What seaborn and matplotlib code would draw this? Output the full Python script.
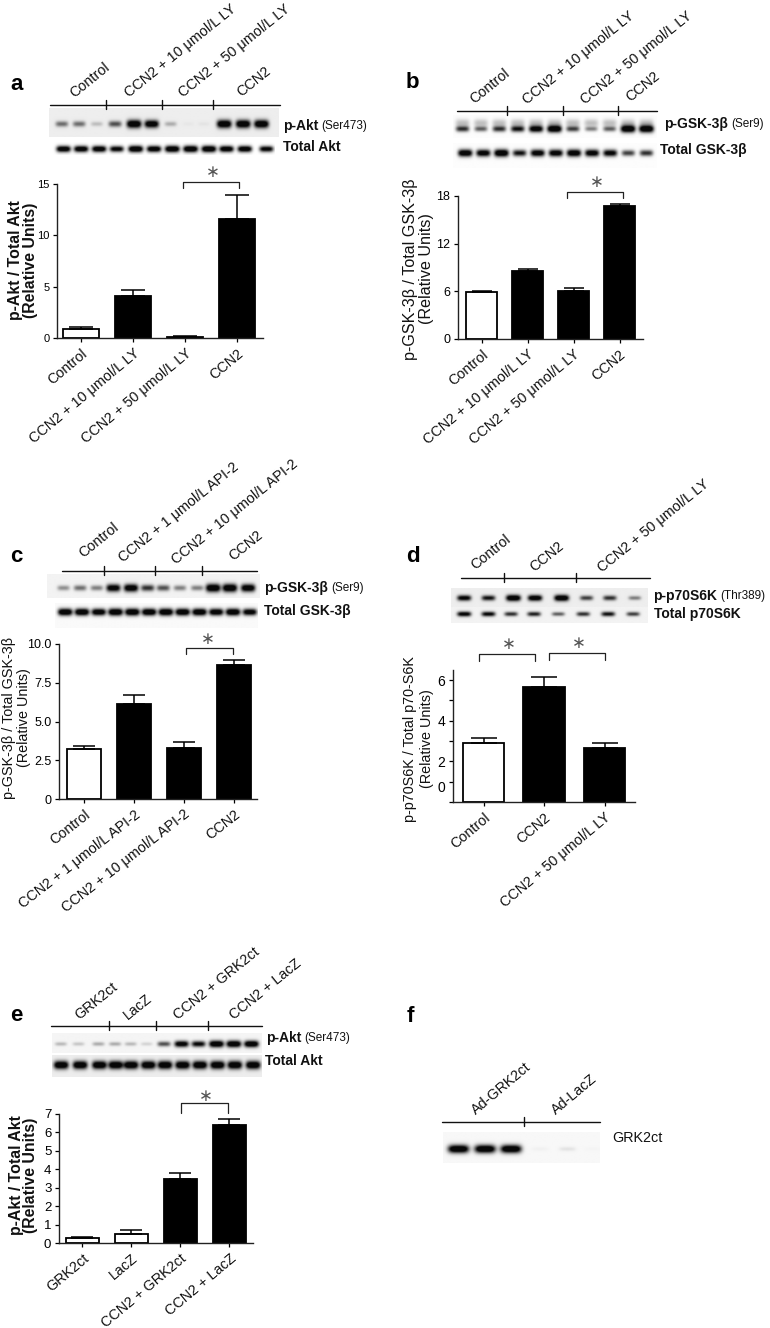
import numpy as np
import pandas as pd
import matplotlib
matplotlib.use("Agg")
import matplotlib.pyplot as plt
import seaborn as sns

W, H = 770, 1328
sns.set_theme(style="ticks")
plt.rcParams['font.family'] = ['Liberation Sans', 'DejaVu Sans']
plt.rcParams['axes.edgecolor'] = 'black'
plt.rcParams['text.color'] = 'black'
plt.rcParams['xtick.color'] = 'black'
plt.rcParams['ytick.color'] = 'black'

# ---------- data ----------
labels_a = ["Control", "CCN2 + 10 μmol/L LY", "CCN2 + 50 μmol/L LY", "CCN2"]
means_a = [0.85, 4.05, 0.12, 11.6]
tops_a = [1.1, 4.7, 0.2, 13.95]
labels_b = labels_a
means_b = [5.9, 8.5, 6.05, 16.8]
tops_b = [6.1, 8.75, 6.4, 17.0]
labels_c = ["Control", "CCN2 + 1 μmol/L API-2", "CCN2 + 10 μmol/L API-2", "CCN2"]
means_c = [3.25, 6.1, 3.3, 8.65]
tops_c = [3.4, 6.7, 3.7, 8.95]
labels_d = ["Control", "CCN2", "CCN2 + 50 μmol/L LY"]
means_d = [2.9, 5.65, 2.65]
tops_d = [3.15, 6.15, 2.9]
labels_e = ["GRK2ct", "LacZ", "CCN2 + GRK2ct", "CCN2 + LacZ"]
means_e = [0.25, 0.5, 3.5, 6.4]
tops_e = [0.3, 0.7, 3.8, 6.75]

blot_a_p = [.4, .4, .15, .5, 1, .9, .2, .02, .03, 1, 1, 1]
blot_a_t = [.9, .9, .9, .8, 1, .9, 1, 1, 1, .9, .9, .8]
blot_b_p = [.6, .45, .6, .7, .85, .95, .55, .35, .45, 1, 1]
blot_b_t = [.9, .85, .95, .7, .85, .85, .9, .85, .8, .55, .6]
blot_c_p = [.3, .4, .35, .85, .9, .6, .5, .35, .35, 1, 1, .9]
blot_c_t = [.95, .95, .9, 1, 1, .95, 1, .95, .95, .9, .95, .85]
blot_d_p = [.8, .7, 1, .9, 1, .55, .6, .35]
blot_d_t = [.8, .75, .6, .65, .45, .6, .7, .55]
blot_e_p = [.18, .14, .22, .22, .18, .1, .5, .85, .75, 1, 1, .95]
blot_e_t = [1, 1, 1, 1, 1, 1, 1, 1, 1, 1, 1, 1]
blot_f = [1, 1, 1, .02, .06, .01]

header_a = ["Control", "CCN2 + 10 μmol/L LY", "CCN2 + 50 μmol/L LY", "CCN2"]
header_b = header_a
header_c = ["Control", "CCN2 + 1 μmol/L API-2", "CCN2 + 10 μmol/L API-2", "CCN2"]
header_d = ["Control", "CCN2", "CCN2 + 50 μmol/L LY"]
header_e = ["GRK2ct", "LacZ", "CCN2 + GRK2ct", "CCN2 + LacZ"]
header_f = ["Ad-GRK2ct", "Ad-LacZ"]

fig = plt.figure(figsize=(W / 100, H / 100), dpi=100, facecolor='white')
ov = fig.add_axes([0, 0, 1, 1], zorder=0)
ov.set_axis_off()
rend = fig.canvas.get_renderer()


def blot(lanes, vals, x0, x1, y0, y1, yc, bg=0.97, wx=7.0, wy=3.6, haze=0.0):
    xs = np.arange(x0, x1 + .5, .5)
    ys = np.arange(y0, y1 + .5, .5)
    X, Y = np.meshgrid(xs, ys)
    d = np.zeros_like(X)
    haz = np.zeros_like(X)
    for lx, v in zip(lanes, vals):
        wy_i = wy * (0.55 + 0.6 * v)
        wx_i = wx * (0.8 + 0.25 * v)
        d += min(1.0, v * 1.05) * 1.35 * np.exp(-((X - lx) / wx_i) ** 4 - ((Y - yc) / wy_i) ** 2)
        if haze:
            haz += haze * np.exp(-((X - lx) / wx) ** 4 - ((Y - yc + 6) / 4.0) ** 2)
    d = np.clip(d + haz, 0, 1)
    img = bg * (1 - d) + 0.03 * d
    ov.imshow(img, extent=(x0, x1, y1, y0), cmap='gray', vmin=0, vmax=1,
              aspect='auto', interpolation='bilinear', zorder=1)


def header(xa, xb, y, ticks, names, starts, rot=39, fs=10.4):
    ov.plot([xa, xb], [y, y], color='#111111', lw=1.0, zorder=3)
    for t in ticks:
        ov.plot([t, t], [y - 5, y + 4], color='#111111', lw=1.0, zorder=3)
    for n, (sx, sy) in zip(names, starts):
        ov.text(sx, sy, n, rotation=rot, rotation_mode='anchor', ha='left', va='bottom',
                fontsize=fs, color='#111111', zorder=4)


def rlabel(x, y, main, sub=None, fs=10, subfs=8.5, weight='bold'):
    t = ov.text(x, y, main, fontsize=fs, fontweight=weight, ha='left', va='center', color='#111111', zorder=4)
    if sub:
        w = t.get_window_extent(rend).width
        ov.text(x + w + 3, y + .5, sub, fontsize=subfs, ha='left', va='center', color='#111111', zorder=4)


def bracket(xa, xb, ytop, ybot, star):
    ov.plot([xa, xa, xb, xb], [ybot, ytop, ytop, ybot], color='#222222', lw=0.9, zorder=3)
    ov.text(star[0], star[1], "∗", fontsize=12, family='DejaVu Sans', color='#555555',
            ha='center', va='center', zorder=4)


def panel_letter(x, y, s):
    ov.text(x, y, s, fontsize=16, fontweight='bold', ha='left', va='baseline', color='black', zorder=4)


def bars(labels, means, tops, box, c0, step, width, ylim, yticks, yticklabels, fills, ticksize, xsize, rot=40):
    x0, ytop, x1, ybot = box
    ax = fig.add_axes([x0 / W, 1 - ybot / H, (x1 - x0) / W, (ybot - ytop) / H], zorder=2)
    ax.patch.set_alpha(0)
    df = pd.DataFrame({"group": labels, "value": means})
    sns.barplot(data=df, x="group", y="value", hue="group", palette=dict(zip(labels, fills)),
                legend=False, width=width, edgecolor='black', linewidth=1.3, saturation=1,
                errorbar=None, ax=ax)
    ax.errorbar(range(len(labels)), means, yerr=[[0] * len(means), np.array(tops) - np.array(means)],
                fmt='none', ecolor='black', elinewidth=1.1, capsize=step * 0.16, capthick=1.1, zorder=1)
    ax.set_xlim((x0 - c0) / step, (x1 - c0) / step)
    ax.set_ylim(*ylim)
    ax.set_yticks(yticks)
    ax.set_yticklabels(yticklabels, fontsize=ticksize)
    ax.set_xticks(range(len(labels)))
    ax.set_xticklabels(labels, rotation=rot, ha='right', rotation_mode='anchor', fontsize=xsize, color='#111111')
    ax.set_xlabel("")
    ax.set_ylabel("")
    ax.tick_params(axis='both', length=3, width=0.9, pad=2.5)
    ax.tick_params(axis='x', pad=3)
    sns.despine(ax=ax)
    for s in ax.spines.values():
        s.set_linewidth(1.0)
        s.set_color('#222222')
    return ax


def ylab(x1, x2, yc, l1, l2, fs=10.5, weight='normal'):
    ov.text(x1, yc, l1, rotation=90, ha='center', va='center', fontsize=fs, fontweight=weight, color='#111111', zorder=4)
    ov.text(x2, yc, l2, rotation=90, ha='center', va='center', fontsize=fs, fontweight=weight, color='#111111', zorder=4)


W_ = 'white'
K_ = 'black'

# ---------- panel a ----------
panel_letter(10, 90, "a")
header(50, 280, 105, [106, 162, 213], header_a, [(76, 100), (131, 100), (185, 100), (243, 99)])
blot(np.array([185, 237, 290, 345, 402, 455, 512, 565, 612, 673, 730, 785]) / 3, blot_a_p, 49, 279, 108, 137, 124, bg=.93)
blot(np.array([190, 243, 297, 350, 407, 462, 517, 572, 627, 680, 735, 800]) / 3, blot_a_t, 52, 275, 142, 155, 149, bg=1, wy=3.0)
rlabel(283, 126, "p-Akt", "(Ser473)")
rlabel(283, 147, "Total Akt")
bracket(183, 239, 182, 188, (213, 172))
bars(labels_a, means_a, tops_a, (57, 184, 263, 338), 81, 52, .68, (0, 15), [0, 5, 10, 15], ["0", "5", "10", "15"],
     [W_, K_, K_, K_], 8, 10.4)
ylab(16, 31, 260, "p-Akt / Total Akt", "(Relative Units)", fs=11.4, weight='bold')

# ---------- panel b ----------
panel_letter(406, 88, "b")
header(457, 657, 110.5, [507, 563, 618], header_b, [(476, 106), (529, 107), (587, 107), (632, 104)])
blot(385 + np.linspace(232, 785, 11) / 3, blot_b_p, 453, 657, 115, 138, 129, bg=.99, wy=3.2, haze=.25)
blot(385 + np.linspace(240, 785, 11) / 3, blot_b_t, 453, 657, 143, 168, 153, bg=.99, wy=3.4)
rlabel(664, 124, "p-GSK-3β", "(Ser9)")
rlabel(660, 150, "Total GSK-3β")
bracket(567, 623, 192, 198, (597, 182))
bars(labels_b, means_b, tops_b, (458, 196, 643, 339), 481.5, 46, .68, (0, 18), [0, 6, 12, 18], ["0", "6", "12", "18"],
     [W_, K_, K_, K_], 9, 10.4)
ylab(410, 427, 269, "p-GSK-3β / Total GSK-3β", "(Relative Units)", fs=11.6)

# ---------- panel c ----------
panel_letter(10, 562, "c")
header(62, 257, 570.7, [104, 155, 202], header_c, [(85, 560), (125, 565), (178, 567), (235, 563)])
blot(np.array([190, 240, 290, 340, 393, 443, 490, 540, 592, 640, 690, 745]) / 3, blot_c_p, 47, 260, 574, 598, 588, bg=.95)
blot(np.linspace(195, 750, 12) / 3, blot_c_t, 55, 258, 603, 628, 612, bg=.98, wy=3.2)
rlabel(264, 588, "p-GSK-3β", "(Ser9)")
rlabel(264, 611, "Total GSK-3β")
bracket(186, 233, 648, 654, (208, 639))
bars(labels_c, means_c, tops_c, (59, 644, 257, 799), 84, 50, .68, (0, 10), [0, 2.5, 5, 7.5, 10], ["0", "2.5", "5.0", "7.5", "10.0"],
     [W_, K_, K_, K_], 9, 10.4, rot=38)
ylab(9, 24, 718, "p-GSK-3β / Total GSK-3β", "(Relative Units)", fs=10.4)

# ---------- panel d ----------
panel_letter(406, 562, "d")
header(461, 650, 578, [504, 576], header_d, [(477, 572), (536, 574), (604, 575)])
blot(385 + np.array([237, 310, 385, 450, 530, 605, 675, 750]) / 3, blot_d_p, 451, 648, 588, 607, 598, bg=.93, wy=2.8)
blot(385 + np.array([237, 310, 378, 447, 520, 595, 670, 745]) / 3, blot_d_t, 451, 648, 607, 623, 614, bg=.95, wy=2.5)
rlabel(653, 596, "p-p70S6K", "(Thr389)")
rlabel(654, 614, "Total p70S6K")
bracket(479, 535, 654, 661, (509, 644))
bracket(549, 605, 653, 660, (579, 643))
ax_d = bars(labels_d, means_d, tops_d, (453, 670, 635, 802), 483.5, 60.5, .68, (0, 6.5), [0, 1, 2, 3, 4, 5, 6],
            ["", "", "2", "", "4", "", "6"], [W_, K_, K_], 10, 10.4)
ax_d.text(-.636, 0.69, "0", fontsize=10, ha='right', va='center', color='black')
ylab(410, 427, 739, "p-p70S6K / Total p70-S6K", "(Relative Units)", fs=10.4)

# ---------- panel e ----------
panel_letter(10, 1021, "e")
header(51, 262, 1026, [109, 156, 208], header_e, [(81, 1022), (130, 1022), (180, 1022), (236, 1022)])
blot(np.array([182, 235, 295, 345, 392, 440, 492, 545, 596, 650, 702, 755]) / 3, blot_e_p, 52, 262, 1033, 1053, 1044, bg=.96, wy=3.0)
blot(np.array([183, 240, 298, 347, 393, 445, 495, 548, 600, 653, 705, 760]) / 3, blot_e_t, 52, 262, 1055, 1077, 1065, bg=.93, wy=3.6)
rlabel(266, 1038, "p-Akt", "(Ser473)")
rlabel(265, 1061, "Total Akt")
bracket(181, 228, 1103, 1113, (206, 1096))
bars(labels_e, means_e, tops_e, (59, 1114, 253, 1243), 82.5, 49, .69, (0, 7), list(range(8)), [str(i) for i in range(8)],
     [W_, W_, K_, K_], 9.5, 10.4)
ylab(17, 31, 1175, "p-Akt / Total Akt", "(Relative Units)", fs=11.4, weight='bold')

# ---------- panel f ----------
panel_letter(407, 1022, "f")
header(442, 600, 1122, [524], header_f, [(478, 1117), (558, 1117)], rot=40)
blot(400 + np.array([175, 255, 333, 420, 503, 580]) / 3, blot_f, 443, 600, 1132, 1163, 1149, bg=.97, wx=10, wy=3.6)
rlabel(612, 1138, "GRK2ct", fs=10.4, weight='normal')

ov.set_xlim(0, W)
ov.set_ylim(H, 0)
fig.savefig("out.png", dpi=100)
